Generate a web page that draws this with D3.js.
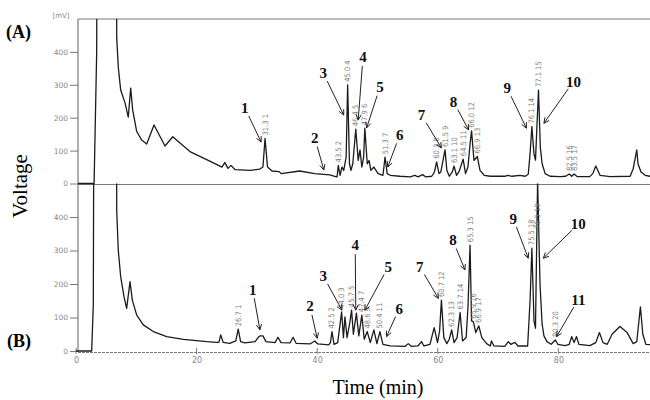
<!DOCTYPE html>
<html>
<head>
<meta charset="utf-8">
<script src="https://cdn.jsdelivr.net/npm/d3@7"></script>
<style>
  html, body { margin: 0; padding: 0; background: #fff; }
  svg { display: block; }
</style>
</head>
<body>
<svg id="chart" width="650" height="400"></svg>
<script>
// ---------- data (time in min, signal in mV) ----------
const traceA = [
  [0,0],[3.0,0],[3.43,400],[3.8,3000],[6.63,3000],[6.75,445],[7.01,354],[7.41,284],[8.13,245],[8.67,202],
  [9.07,290],[9.4,223],[10.07,158],[10.9,132],[11.72,120],[12.94,178],[14.76,114],[16.04,142],[18.9,97],
  [23.3,58],[24.2,50],[24.7,64],[25.2,46],[25.7,55],[26.4,42],[28.9,40],[30.5,44],[31.0,50],[31.35,137],
  [31.76,50],[32.5,38],[33.7,36],[34.0,30],[37.1,38],[39.6,30],[42.1,26],[42.9,22],
  [43.3,20],[43.5,55],[43.8,25],[44.1,50],[44.4,40],[44.8,80],[45.05,300],[45.35,60],[45.6,40],[45.9,60],
  [46.4,165],[46.8,70],[47.1,102],[47.4,50],[47.7,80],[47.9,168],[48.3,60],[48.6,70],[48.9,40],[49.4,50],
  [50.1,30],[50.9,25],[51.25,80],[51.6,30],[52.1,25],[53.7,22],[55.4,20],[56.2,25],[56.7,20],[57.5,27],
  [58.0,20],[59.0,22],
  [59.45,35],[59.8,66],[60.2,30],[60.5,35],[61.2,102],[61.5,40],[61.9,22],[62.4,35],[62.7,53],[63.1,25],
  [63.5,35],[64.2,74],[64.6,30],[65.0,50],[65.35,120],[65.6,160],[66.0,70],[66.55,82],[67.0,40],[67.7,25],
  [68.7,22],[71.1,22],[71.6,25],[72.3,22],[73.6,25],[74.5,22],[75.0,28],
  [75.3,90],[75.6,173],[75.95,90],[76.2,71],[76.7,284],[77.0,110],[77.3,60],[77.8,30],[78.6,22],[80.3,21],
  [81.2,22],[81.8,29],[82.2,22],[82.6,29],[83.1,21],[85.2,21],[85.7,30],[86.2,53],[86.9,25],[88.6,21],
  [91.9,22],[92.4,45],[93.0,102],[93.2,60],[93.7,35],[94.4,25],[95.2,22],[96.8,22]
];

const traceB = [
  [0,0],[2.6,0],[2.87,137],[3.3,3000],[6.63,3000],[6.75,421],[7.01,301],[7.41,222],[7.96,162],[8.4,127],
  [8.96,207],[9.34,152],[10.07,107],[11.16,78],[12.82,58],[15.04,43],[17.8,35],[21.7,28],[23.3,26],
  [23.7,26],[24.0,48],[24.4,26],[25.5,23],[26.5,30],[26.9,65],[27.3,28],[28.0,24],[29.7,28],[30.2,40],
  [30.5,45],[31.0,45],[31.5,28],[33.0,25],[33.5,41],[34.0,25],[35.5,24],[36.0,41],[36.5,23],[38.8,21],
  [39.6,30],[40.1,21],[41.9,18],
  [42.2,25],[42.45,58],[42.8,20],[43.4,25],[44.05,117],[44.35,40],[44.6,102],[44.95,40],[45.4,84],
  [45.7,122],[46.0,50],[46.5,113],[46.9,45],[47.4,107],[47.8,35],[48.3,58],[48.8,25],[49.4,63],[49.9,22],
  [50.4,58],[50.9,20],[52.1,15],[54.6,14],[55.1,22],[55.6,14],[56.7,15],[57.3,28],[57.7,15],[58.7,20],
  [59.4,70],[59.95,25],[60.3,60],[60.6,152],[61.0,40],[61.5,22],[61.9,35],[62.3,63],[62.7,25],[63.2,40],
  [63.7,115],[64.1,30],[64.7,40],[65.0,130],[65.35,316],[65.6,90],[65.9,87],[66.3,55],[66.8,75],[67.3,40],
  [68.1,22],[68.7,15],[68.9,30],[69.3,15],[71.1,14],[71.7,28],[72.1,20],[72.8,26],[73.3,15],[74.9,15],
  [75.3,150],[75.6,307],[75.95,90],[76.2,68],[76.55,510],[76.95,200],[77.3,80],[77.6,45],[78.1,28],
  [78.8,20],[79.5,33],[79.9,20],[81.1,16],[81.8,20],[82.2,43],[82.6,25],[83.0,43],[83.4,20],[85.2,16],
  [86.2,25],[86.8,55],[87.4,25],[88.1,20],[88.9,50],[90.2,73],[91.4,55],[92.4,22],[93.0,28],[93.6,132],
  [94.0,50],[94.5,20],[96.8,16]
];

const yTicks = [0, 100, 200, 300, 400];
const xTicks = [0, 20, 40, 60, 80];

// integrator peak tags: [retention time, tag]
const tagsA = [
  [31.35,'31.3 1'],[43.5,'43.5 2'],[45.05,'45.0 4'],[46.4,'46.4 5'],[47.9,'47.9 6'],[51.25,'51.3 7'],
  [59.8,'60.3 8'],[61.2,'61.5 9'],[62.7,'63.1 10'],[64.2,'64.5 11'],[65.6,'66.0 12'],[66.55,'66.9 13'],
  [75.6,'76.1 14'],[76.7,'77.1 15'],[81.8,'82.5 16'],[82.6,'83.5 17']
];
const tagsB = [
  [26.9,'26.7 1'],[42.45,'42.5 2'],[44.05,'44.0 3'],[45.7,'45.7 5'],[47.4,'47.4 7'],[48.3,'48.6 9'],
  [50.4,'50.4 11'],[60.6,'60.7 12'],[62.3,'62.3 13'],[63.7,'63.7 14'],[65.35,'65.3 15'],[65.9,'65.9 16'],
  [66.8,'66.9 17'],[75.6,'75.5 18'],[76.55,'76.5 19'],[79.5,'80.3 20']
];

// compound callouts: [number, label time, label mV, tip time, tip mV]
const calloutsA = [
  ['1',28.0,230,30.7,126],['2',39.6,139,41.1,41],['3',41.0,336,44.4,208],['4',47.6,385,46.8,193],
  ['5',50.4,293,48.2,169],['6',53.7,148,51.7,50],['7',57.3,208,60.6,108],['8',62.6,249,65.1,163],
  ['9',71.5,290,74.7,168],['10',82.5,310,77.6,183]
];
const calloutsB = [
  ['1',29.3,184,30.5,63],['2',38.8,134,40.0,38],['3',41.0,224,44.1,122],['4',46.3,316,46.4,122],
  ['5',51.8,252,47.9,122],['6',53.6,127,51.5,43],['7',57.0,252,60.1,157],['8',62.5,331,64.5,242],
  ['9',72.5,396,75.0,277],['10',83.3,379,77.5,277],['11',83.3,154,79.7,43]
];

// ---------- layout ----------
const W = 650, H = 400;
const svg = d3.select('#chart');
const x = d3.scaleLinear().domain([0, 100]).range([76, 679]);
const yA = d3.scaleLinear().domain([0, 500]).range([183.5, 19]);
const yB = d3.scaleLinear().domain([0, 500]).range([351, 183.5]);

const axisCol = '#7a7a7a';
const tickFont = 'DejaVu Sans, sans-serif';
const serif = "'Times New Roman', 'Liberation Serif', Times, serif";

// frame
svg.append('line').attr('x1', 78).attr('x2', W).attr('y1', 19).attr('y2', 19)
  .attr('stroke', axisCol).attr('stroke-width', 1.2);
svg.append('line').attr('x1', 78).attr('x2', 78).attr('y1', 19).attr('y2', 352)
  .attr('stroke', axisCol).attr('stroke-width', 1.2);
svg.append('line').attr('x1', 78).attr('x2', W).attr('y1', 184.5).attr('y2', 184.5)
  .attr('stroke', axisCol).attr('stroke-width', 1.2);
svg.append('line').attr('x1', 78).attr('x2', W).attr('y1', 352.5).attr('y2', 352.5)
  .attr('stroke', axisCol).attr('stroke-width', 1.2).attr('stroke-dasharray', '3,1');

svg.append('text').attr('x', 61).attr('y', 18)
  .attr('text-anchor', 'middle').attr('font-family', tickFont).attr('font-size', 7)
  .attr('fill', '#888').text('[mV]');

[yA, yB].forEach((ys) => {
  const g = svg.append('g')
    .attr('transform', 'translate(78,0)')
    .call(d3.axisLeft(ys).tickValues(yTicks).tickSize(8).tickPadding(2));
  g.select('.domain').remove();
  g.selectAll('line').attr('stroke', axisCol);
  g.selectAll('text').attr('fill', '#888').attr('font-family', tickFont).attr('font-size', 7.5);
});

const gx = svg.append('g')
  .attr('transform', 'translate(0,352.5)')
  .call(d3.axisBottom(x).tickValues(xTicks).tickSize(0).tickPadding(5));
gx.select('.domain').remove();
gx.selectAll('text').attr('fill', '#888').attr('font-family', tickFont).attr('font-size', 8);
svg.append('g').selectAll('line').data(xTicks).join('line')
  .attr('x1', (d) => x(d)).attr('x2', (d) => x(d))
  .attr('y1', 348).attr('y2', 354).attr('stroke', axisCol);

// clips
const defs = svg.append('defs');
defs.append('clipPath').attr('id', 'clipA').append('rect')
  .attr('x', 78).attr('y', 19).attr('width', W).attr('height', 167);
defs.append('clipPath').attr('id', 'clipB').append('rect')
  .attr('x', 76).attr('y', yB(500)).attr('width', W).attr('height', 172);

const panels = [
  { trace: traceA, ys: yA, tags: tagsA, callouts: calloutsA, clip: 'clipA', cap: 340 },
  { trace: traceB, ys: yB, tags: tagsB, callouts: calloutsB, clip: 'clipB', cap: 355 },
];

panels.forEach((p) => {
  const line = d3.line().x((d) => x(d[0])).y((d) => p.ys(d[1]));
  svg.append('path')
    .datum(p.trace)
    .attr('d', line)
    .attr('clip-path', `url(#${p.clip})`)
    .attr('fill', 'none')
    .attr('stroke', '#1b1b1b')
    .attr('stroke-width', 1.3)
    .attr('stroke-linejoin', 'round');

  // small rotated integrator tags above peaks
  p.tags.forEach(([t, txt]) => {
    const near = p.trace.filter((d) => Math.abs(d[0] - t) <= 0.3).map((d) => d[1]);
    const top = Math.min(d3.max(near), p.cap);
    const px = x(t) + 2.5, py = p.ys(top) - 3;
    svg.append('text')
      .attr('transform', `translate(${px},${py}) rotate(-90)`)
      .attr('font-family', 'DejaVu Sans Condensed, Liberation Sans Narrow, sans-serif')
      .attr('font-size', 7.5)
      .attr('fill', '#808080')
      .text(txt);
  });

  // numbered callouts with open arrowheads
  p.callouts.forEach(([lab, lt, lv, tt, tv]) => {
    const lx = x(lt), ly = p.ys(lv), tx = x(tt), ty = p.ys(tv);
    const dx = tx - lx, dy = ty - ly, len = Math.hypot(dx, dy);
    const ux = dx / len, uy = dy / len;
    const sx = lx + ux * 9, sy = ly + uy * 9;
    svg.append('line').attr('x1', sx).attr('y1', sy).attr('x2', tx).attr('y2', ty)
      .attr('stroke', '#222').attr('stroke-width', 1);
    const a = Math.atan2(dy, dx);
    [0.45, -0.45].forEach((da) => {
      svg.append('line')
        .attr('x1', tx).attr('y1', ty)
        .attr('x2', tx - 6 * Math.cos(a + da)).attr('y2', ty - 6 * Math.sin(a + da))
        .attr('stroke', '#222').attr('stroke-width', 1);
    });
    svg.append('text')
      .attr('x', lx).attr('y', ly).attr('dy', '0.35em')
      .attr('text-anchor', 'middle')
      .attr('font-family', serif)
      .attr('font-weight', 'bold').attr('font-size', 15)
      .attr('fill', '#111')
      .text(lab);
  });
});

// panel letters and axis titles
svg.append('text').attr('x', 6).attr('y', 38)
  .attr('font-family', serif).attr('font-weight', 'bold').attr('font-size', 18)
  .text('(A)');
svg.append('text').attr('x', 7).attr('y', 347)
  .attr('font-family', serif).attr('font-weight', 'bold').attr('font-size', 18)
  .text('(B)');
svg.append('text')
  .attr('transform', 'translate(27,186) rotate(-90)')
  .attr('text-anchor', 'middle')
  .attr('font-family', serif).attr('font-size', 21)
  .text('Voltage');
svg.append('text').attr('x', 378).attr('y', 394)
  .attr('text-anchor', 'middle')
  .attr('font-family', serif).attr('font-size', 20)
  .text('Time (min)');
</script>
</body>
</html>
